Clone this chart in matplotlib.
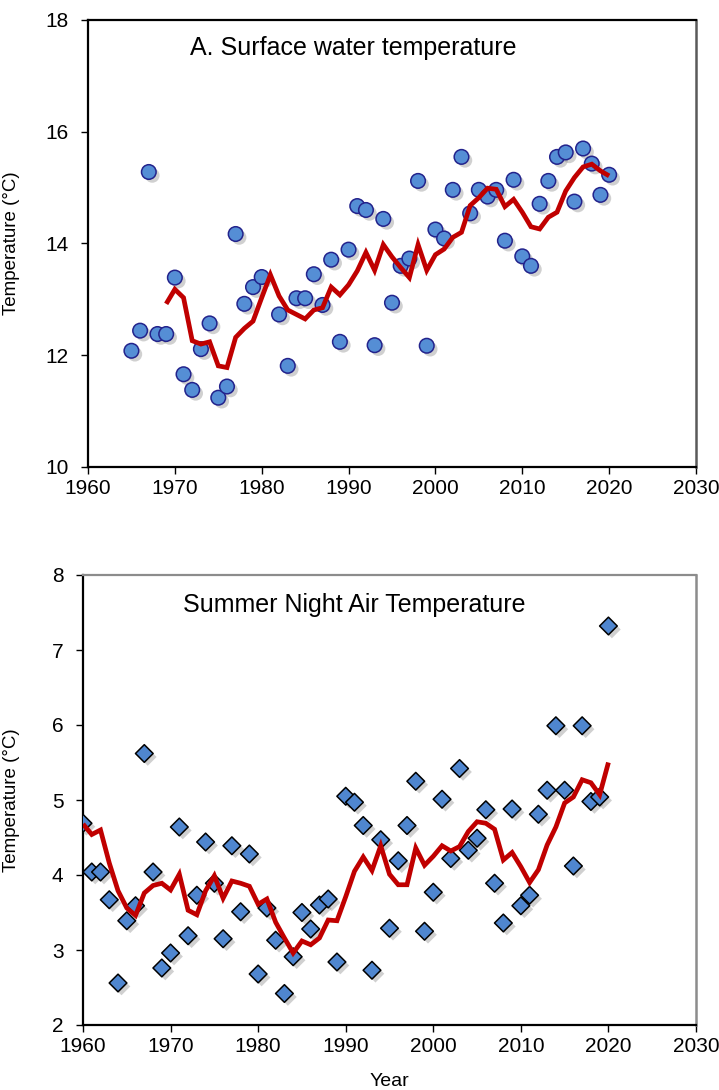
import matplotlib
matplotlib.use("Agg")
import matplotlib.pyplot as plt
import matplotlib.patheffects as pe
from matplotlib import font_manager

# ---- Surface water temperature (annual values and running mean) ----
water_years = [1965, 1966, 1967, 1968, 1969, 1970, 1971, 1972, 1973, 1974,
               1975, 1976, 1977, 1978, 1979, 1980, 1982, 1983, 1984, 1985,
               1986, 1987, 1988, 1989, 1990, 1991, 1992, 1993, 1994, 1995,
               1996, 1997, 1998, 1999, 2000, 2001, 2002, 2003, 2004, 2005,
               2006, 2007, 2008, 2009, 2010, 2011, 2012, 2013, 2014, 2015,
               2016, 2017, 2018, 2019, 2020]
water_temp = [12.08, 12.44, 15.28, 12.38, 12.38, 13.39, 11.66, 11.38, 12.11, 12.57,
              11.24, 11.44, 14.17, 12.92, 13.22, 13.40, 12.73, 11.81, 13.02, 13.02,
              13.45, 12.90, 13.71, 12.24, 13.89, 14.67, 14.60, 12.18, 14.44, 12.94,
              13.60, 13.73, 15.12, 12.17, 14.25, 14.09, 14.96, 15.55, 14.54, 14.96,
              14.84, 14.96, 14.05, 15.14, 13.77, 13.60, 14.71, 15.12, 15.55, 15.63,
              14.75, 15.70, 15.43, 14.87, 15.23]

water_mean_years = list(range(1969, 2021))
water_mean = [12.92, 13.18, 13.03, 12.26, 12.20, 12.24, 11.81, 11.78, 12.32, 12.48,
              12.61, 13.03, 13.44, 13.06, 12.81, 12.73, 12.65, 12.81, 12.85, 13.22,
              13.08, 13.26, 13.51, 13.84, 13.52, 13.98, 13.76, 13.57, 13.39, 13.98,
              13.52, 13.80, 13.90, 14.11, 14.20, 14.68, 14.82, 14.99, 14.97, 14.66,
              14.79, 14.56, 14.30, 14.26, 14.47, 14.56, 14.94, 15.18, 15.37, 15.42,
              15.30, 15.21]

# ---- Summer night air temperature (annual values and running mean) ----
air_years = list(range(1960, 2021))
air_temp = [4.69, 4.04, 4.04, 3.67, 2.56, 3.39, 3.59, 5.62, 4.04, 2.76,
            2.96, 4.64, 3.19, 3.73, 4.44, 3.89, 3.15, 4.39, 3.51, 4.28,
            2.68, 3.56, 3.13, 2.42, 2.91, 3.50, 3.28, 3.60, 3.68, 2.84,
            5.05, 4.97, 4.66, 2.73, 4.47, 3.29, 4.19, 4.66, 5.25, 3.25,
            3.77, 5.01, 4.22, 5.42, 4.33, 4.49, 4.87, 3.89, 3.36, 4.88,
            3.59, 3.73, 4.81, 5.13, 5.99, 5.13, 4.12, 5.99, 4.98, 5.04,
            7.32]
air_mean = [4.68, 4.54, 4.60, 4.16, 3.79, 3.56, 3.46, 3.76, 3.86, 3.89,
            3.80, 4.01, 3.53, 3.47, 3.79, 3.99, 3.69, 3.92, 3.89, 3.85,
            3.61, 3.68, 3.37, 3.16, 2.96, 3.12, 3.07, 3.16, 3.40, 3.39,
            3.71, 4.05, 4.24, 4.06, 4.39, 4.01, 3.87, 3.87, 4.36, 4.13,
            4.25, 4.39, 4.32, 4.38, 4.58, 4.71, 4.69, 4.61, 4.20, 4.30,
            4.11, 3.90, 4.07, 4.40, 4.64, 4.96, 5.04, 5.27, 5.23, 5.07,
            5.50]

x_ticks = [1960, 1970, 1980, 1990, 2000, 2010, 2020, 2030]
water_yticks = [10, 12, 14, 16, 18]
air_yticks = [2, 3, 4, 5, 6, 7, 8]

title_water = "A. Surface water temperature"
title_air = "Summer Night Air Temperature"
ylabel = "Temperature (°C)"
xlabel = "Year"

# ---- styling ----
installed = {f.name for f in font_manager.fontManager.ttflist}
FONT = "Liberation Sans" if "Liberation Sans" in installed else "DejaVu Sans"
plt.rcParams["font.family"] = [FONT, "DejaVu Sans"]

RED = "#C00000"
DOT_FACE = "#558ED5"
DOT_EDGE = "#23238C"
DIAMOND_FACE = "#4F86CF"
GREY = "#8C8C8C"

shadow = [pe.SimplePatchShadow(offset=(2.5, -2.5), shadow_rgbFace="#7a7a7a", alpha=0.35),
          pe.Normal()]

W, H = 719, 1090
fig = plt.figure(figsize=(W / 100, H / 100), dpi=100)

ax1 = fig.add_axes([88 / W, 1 - 467 / H, (696 - 88) / W, (467 - 20) / H])
ax2 = fig.add_axes([83 / W, 1 - 1025 / H, (696 - 83) / W, (1025 - 575) / H])


def style_axes(ax, top_color, right_color):
    ax.set_xlim(1960, 2030)
    ax.set_xticks(x_ticks)
    for side in ("left", "bottom"):
        ax.spines[side].set_color("black")
        ax.spines[side].set_linewidth(1.6)
    ax.spines["top"].set_color(top_color)
    ax.spines["top"].set_linewidth(1.6)
    ax.spines["right"].set_color(right_color)
    ax.spines["right"].set_linewidth(1.8)
    ax.tick_params(axis="both", direction="out", length=5, width=1.0,
                   labelsize=15, colors="black")
    ax.tick_params(axis="x", pad=4)
    ax.tick_params(axis="y", pad=9)
    ax.set_ylabel(ylabel, fontsize=13.5)


def fig_text(x, y, s, **kw):
    # place text by pixel position measured from the top-left corner
    fig.text(x / W, 1 - y / H, s, **kw)


# top panel
ax1.scatter(water_years, water_temp, s=10.5 ** 2, marker="o", facecolor=DOT_FACE,
            edgecolor=DOT_EDGE, linewidths=1.1, zorder=3, path_effects=shadow)
ax1.plot(water_mean_years, water_mean, color=RED, lw=3.4, zorder=4,
         solid_joinstyle="miter", solid_capstyle="butt")
ax1.set_ylim(10, 18)
ax1.set_yticks(water_yticks)
style_axes(ax1, "black", "#5a5a5a")
fig_text(190, 48, title_water, fontsize=18, va="center", ha="left")

# bottom panel
ax2.scatter(air_years, air_temp, s=9 ** 2, marker="D", facecolor=DIAMOND_FACE,
            edgecolor="black", linewidths=1.1, zorder=3, path_effects=shadow)
ax2.plot(air_years, air_mean, color=RED, lw=3.4, zorder=4,
         solid_joinstyle="miter", solid_capstyle="butt")
ax2.set_ylim(2, 8)
ax2.set_yticks(air_yticks)
style_axes(ax2, GREY, GREY)
ax2.set_xlabel(xlabel, fontsize=14, labelpad=12)
fig_text(183, 605, title_air, fontsize=18, va="center", ha="left")

ax1.yaxis.set_label_coords(-68 / (696 - 88), 0.5)
ax2.yaxis.set_label_coords(-63 / (696 - 83), 0.5)

fig.savefig("out.png", dpi=100, facecolor="white")
